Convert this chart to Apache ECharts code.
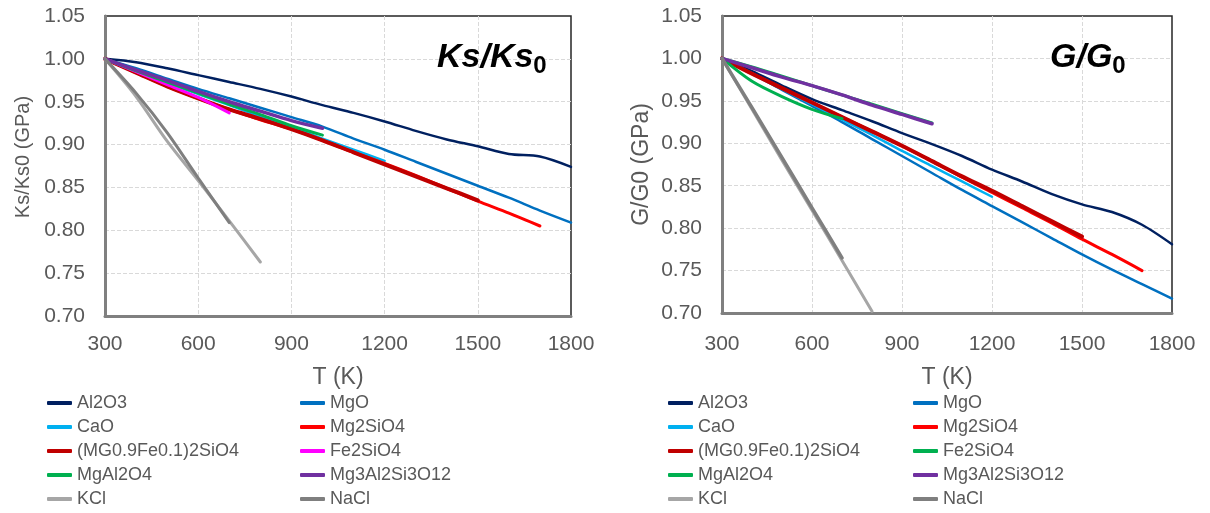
<!DOCTYPE html>
<html>
<head>
<meta charset="utf-8">
<script src="https://cdn.jsdelivr.net/npm/echarts@6/dist/echarts.min.js"></script>
<style>
  html, body { margin: 0; padding: 0; background: #fff; }
  #chart { width: 1210px; height: 513px; }
</style>
</head>
<body>
<div id="chart"></div>
<script>
// temperatures (K), every series starts at 300 and steps by 100
const temps = [300, 400, 500, 600, 700, 800, 900, 1000, 1100, 1200, 1300, 1400, 1500, 1600, 1700, 1800];
const xTicks = [300, 600, 900, 1200, 1500, 1800];
const yTicks = [0.70, 0.75, 0.80, 0.85, 0.90, 0.95, 1.00, 1.05];

// Ks/Ks0 (left panel)
const ksAl2O3 = [1.000, 0.996, 0.989, 0.981, 0.973, 0.965, 0.956, 0.946, 0.937, 0.927, 0.916, 0.906, 0.898, 0.889, 0.886, 0.874];
const ksMgO = [1.000, 0.989, 0.977, 0.965, 0.954, 0.943, 0.932, 0.921, 0.907, 0.894, 0.880, 0.866, 0.852, 0.838, 0.823, 0.809];
const ksCaO = [1.000, 0.986, 0.972, 0.959, 0.946, 0.933, 0.920, 0.907, 0.894, 0.881];
const ksMg2SiO4 = [1.000, 0.984, 0.968, 0.954, 0.941, 0.929, 0.918, 0.905, 0.891, 0.878, 0.864, 0.849, 0.834, 0.820, 0.805];
const ksMgFeSiO4 = [1.000, 0.984, 0.968, 0.954, 0.941, 0.930, 0.918, 0.905, 0.891, 0.877, 0.863, 0.849, 0.835];
const ksFe2SiO4 = [1.000, 0.985, 0.970, 0.955, 0.937];
const ksMgAl2O4 = [1.000, 0.986, 0.973, 0.960, 0.947, 0.935, 0.922, 0.911];
const ksMg3Al2Si3O12 = [1.000, 0.987, 0.975, 0.962, 0.950, 0.939, 0.928, 0.919];
const ksKCl = [1.000, 0.956, 0.904, 0.858, 0.811, 0.763];
const ksNaCl = [1.000, 0.960, 0.914, 0.861, 0.809];

// G/G0 (right panel)
const gAl2O3 = [1.000, 0.985, 0.968, 0.952, 0.939, 0.926, 0.912, 0.899, 0.885, 0.869, 0.855, 0.840, 0.828, 0.819, 0.804, 0.781];
const gMgO = [1.000, 0.982, 0.963, 0.944, 0.925, 0.905, 0.885, 0.865, 0.845, 0.826, 0.807, 0.788, 0.769, 0.751, 0.734, 0.717];
const gCaO = [1.000, 0.982, 0.964, 0.946, 0.928, 0.910, 0.891, 0.873, 0.855, 0.837];
const gMg2SiO4 = [1.000, 0.982, 0.965, 0.948, 0.931, 0.914, 0.897, 0.879, 0.860, 0.842, 0.824, 0.806, 0.787, 0.769, 0.750];
const gMgFeSiO4 = [1.000, 0.982, 0.965, 0.948, 0.931, 0.914, 0.897, 0.879, 0.861, 0.844, 0.826, 0.808, 0.790];
const gFe2SiO4 = [1.000, 0.973, 0.955, 0.940, 0.929];
const gMgAl2O4 = [1.000, 0.990, 0.979, 0.968, 0.957, 0.946, 0.935, 0.924];
const gMg3Al2Si3O12 = [1.000, 0.989, 0.978, 0.968, 0.957, 0.945, 0.934, 0.923];
const gKCl = [1.000, 0.940, 0.880, 0.821, 0.762, 0.702];
const gNaCl = [1.000, 0.942, 0.883, 0.824, 0.765];

const col1 = ['Al2O3', 'CaO', '(MG0.9Fe0.1)2SiO4', 'MgAl2O4', 'KCl'];
const col2 = ['MgO', 'Mg2SiO4', 'Fe2SiO4', 'Mg3Al2Si3O12', 'NaCl'];

const FONT = '"Liberation Sans", Arial, sans-serif';
const GREY = '#595959';

function line(name, vals, color, width, idx) {
  return {
    type: 'line',
    name: name,
    xAxisIndex: idx,
    yAxisIndex: idx,
    data: vals.map((v, i) => [temps[i], v]),
    symbol: 'none',
    smooth: 0.3,
    lineStyle: { color: color, width: width, cap: 'round' },
    itemStyle: { color: color }
  };
}

function xAxis(idx, margin, gap) {
  return {
    type: 'value', gridIndex: idx, min: 300, max: 1800, interval: 300,
    name: 'T (K)', nameLocation: 'middle', nameGap: gap,
    nameTextStyle: { fontSize: 23, color: GREY, fontFamily: FONT },
    axisLine: { lineStyle: { color: '#808080', width: 3 } },
    axisTick: { show: false },
    axisLabel: { fontSize: 21, color: GREY, fontFamily: FONT, margin: margin, formatter: v => String(v) },
    splitLine: { show: true, showMinLine: false, showMaxLine: false, lineStyle: { color: '#d9d9d9', type: 'dashed', width: 1 } }
  };
}

function yAxis(idx, name, size, gap, pad) {
  return {
    type: 'value', gridIndex: idx, min: 0.70, max: 1.05, interval: 0.05,
    name: name, nameLocation: 'middle', nameGap: gap,
    nameTextStyle: { fontSize: size, color: GREY, fontFamily: FONT, padding: pad },
    axisLine: { show: true, lineStyle: { color: '#808080', width: 3 } },
    axisTick: { show: false },
    axisLabel: { fontSize: 21, color: GREY, fontFamily: FONT, margin: 20, formatter: v => v.toFixed(2) },
    splitLine: { show: true, showMinLine: false, showMaxLine: false, lineStyle: { color: '#d9d9d9', type: 'dashed', width: 1 } }
  };
}

function legendCol(left, names, overrides) {
  return {
    orient: 'vertical', left: left, top: 391, padding: 0, itemGap: 0,
    icon: 'roundRect', itemWidth: 25, itemHeight: 4,
    textStyle: { fontSize: 18, color: GREY, fontFamily: FONT, lineHeight: 24 },
    data: names.map(n => (overrides && overrides[n]) ? Object.assign({ name: n }, overrides[n]) : n)
  };
}

function titleText(left, main) {
  return {
    text: '{a|' + main + '}{b|0}', left: left, top: 37, padding: 0,
    textStyle: {
      rich: {
        a: { fontSize: 34, fontWeight: 'bold', fontStyle: 'italic', color: '#000', fontFamily: FONT },
        b: { fontSize: 24, fontWeight: 'bold', color: '#000', fontFamily: FONT, padding: [17, 0, 0, 0] }
      }
    }
  };
}

const myChart = echarts.init(document.getElementById('chart'));
const green = { itemStyle: { color: '#00B050' } };

myChart.setOption({
  backgroundColor: '#fff',
  animation: false,
  title: [titleText(437, 'Ks/Ks'), titleText(1050, 'G/G')],
  grid: [
    { left: 105, right: 639, top: 16, bottom: 197, show: true, borderColor: '#262626', borderWidth: 1.5 },
    { left: 722, right: 38, top: 16, bottom: 200, show: true, borderColor: '#262626', borderWidth: 1.5 }
  ],
  xAxis: [xAxis(0, 18, 50), xAxis(1, 21, 53)],
  yAxis: [yAxis(0, 'Ks/Ks0 (GPa)', 20, 72, [0, 0, 0, 18]), yAxis(1, 'G/G0 (GPa)', 23, 69, [0, 0, 0, 0])],
  legend: [
    legendCol(47, col1), legendCol(300, col2),
    legendCol(668, col1), legendCol(913, col2, { 'Fe2SiO4': green })
  ],
  series: [
    line('Al2O3', ksAl2O3, '#002060', 2.5, 0),
    line('MgO', ksMgO, '#0070C0', 2.5, 0),
    line('CaO', ksCaO, '#00B0F0', 2.5, 0),
    line('Mg2SiO4', ksMg2SiO4, '#FF0000', 3, 0),
    line('(MG0.9Fe0.1)2SiO4', ksMgFeSiO4, '#C00000', 4, 0),
    line('Fe2SiO4', ksFe2SiO4, '#FF00FF', 3, 0),
    line('MgAl2O4', ksMgAl2O4, '#00B050', 3, 0),
    line('Mg3Al2Si3O12', ksMg3Al2Si3O12, '#7030A0', 3.5, 0),
    line('KCl', ksKCl, '#A6A6A6', 3, 0),
    line('NaCl', ksNaCl, '#7F7F7F', 3, 0),

    line('Al2O3', gAl2O3, '#002060', 2.5, 1),
    line('MgO', gMgO, '#0070C0', 2.5, 1),
    line('CaO', gCaO, '#00B0F0', 2.5, 1),
    line('Mg2SiO4', gMg2SiO4, '#FF0000', 3, 1),
    line('(MG0.9Fe0.1)2SiO4', gMgFeSiO4, '#C00000', 4, 1),
    line('Fe2SiO4', gFe2SiO4, '#00B050', 3, 1),
    line('MgAl2O4', gMgAl2O4, '#00B050', 3, 1),
    line('Mg3Al2Si3O12', gMg3Al2Si3O12, '#7030A0', 3.5, 1),
    line('KCl', gKCl, '#A6A6A6', 3, 1),
    line('NaCl', gNaCl, '#7F7F7F', 3.5, 1)
  ]
});
</script>
</body>
</html>
